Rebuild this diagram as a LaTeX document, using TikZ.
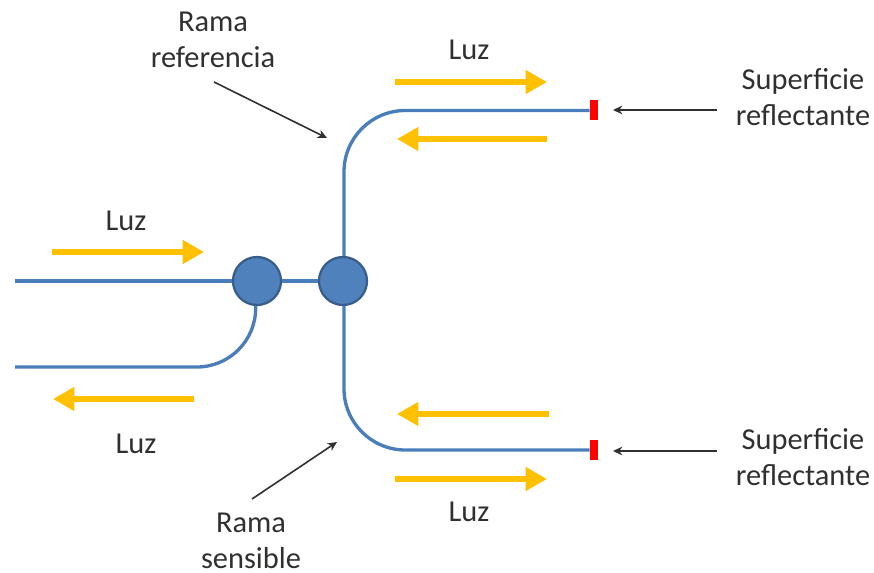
\documentclass[tikz,border=0pt]{standalone}
\usepackage{fontspec}
\setmainfont{Carlito}
\usetikzlibrary{arrows.meta}
\definecolor{fibreblue}{HTML}{4A7EBB}
\definecolor{couplerfill}{HTML}{4F81BD}
\definecolor{couplerline}{HTML}{385D8A}
\definecolor{lightyellow}{HTML}{FFC000}
\definecolor{labelgrey}{HTML}{303030}
\tikzset{
    fibre/.style={fibreblue, line width=2.5pt},
    coupler/.style={circle, draw=couplerline, fill=couplerfill, line width=1.7pt, minimum size=36pt, inner sep=0pt},
    mirror/.style={rectangle, fill=red, minimum width=6pt, minimum height=15pt, inner sep=0pt},
    light/.style={lightyellow, line width=5pt, -{Triangle[length=16pt,width=17pt]}, shorten >=0pt},
    pointer/.style={labelgrey, line width=1.2pt, -{Stealth[length=7pt,width=6.5pt]}},
    label/.style={text=labelgrey, font=\fontsize{22.8pt}{27pt}\selectfont, align=center, inner sep=0pt}
}
\begin{document}
\begin{tikzpicture}[x=0.75pt,y=-0.75pt]
    \useasboundingbox (0,0) rectangle (874,573);

    \node[coupler] (cplA) at (257,281) {};
    \node[coupler] (cplB) at (343,281) {};
    \node[mirror] (mirTop) at (594,110.5) {};
    \node[mirror] (mirBot) at (594,450) {};

    \coordinate (inTop) at (15,281);
    \coordinate (inBot) at (15,367);

    % fibres
    \draw[fibre] (inTop) -- (cplA);
    \draw[fibre] (cplA) -- (cplB);
    \draw[fibre, rounded corners=44pt] (inBot) -- (255.5,367) -- ([xshift=-1pt]cplA.south);
    \draw[fibre, rounded corners=46pt] ([xshift=.75pt]cplB.north) -- (344,110.5) -- (mirTop);
    \draw[fibre, rounded corners=46pt] ([xshift=.75pt]cplB.south) -- (344,450) -- (mirBot);

    % light
    \coordinate (l1a) at (52,252);   \coordinate (l1b) at (204,252);
    \coordinate (l2a) at (194,399);  \coordinate (l2b) at (53,399);
    \coordinate (l3a) at (395,82);   \coordinate (l3b) at (547,82);
    \coordinate (l4a) at (547,139);  \coordinate (l4b) at (397,139);
    \coordinate (l5a) at (549,414);  \coordinate (l5b) at (397,414);
    \coordinate (l6a) at (395,479);  \coordinate (l6b) at (547,479);
    \draw[light] (l1a) -- (l1b);
    \draw[light] (l2a) -- (l2b);
    \draw[light] (l3a) -- (l3b);
    \draw[light] (l4a) -- (l4b);
    \draw[light] (l5a) -- (l5b);
    \draw[light] (l6a) -- (l6b);

    % labels
    \node[label] (luzA) at (126,221) {Luz};
    \node[label] (luzB) at (136,444) {Luz};
    \node[label] (luzC) at (469,50) {Luz};
    \node[label] (luzD) at (469,512) {Luz};
    \node[label] (ramaRef) at (213,40) {Rama\\referencia};
    \node[label] (ramaSen) at (251,541) {Rama\\sensible};
    \node[label] (surfTop) at (803,97) {Superficie\\reflectante};
    \node[label] (surfBot) at (803,457) {Superficie\\reflectante};

    % pointers
    \coordinate (refFrom) at (214,82);  \coordinate (refTo) at (327,138);
    \coordinate (senFrom) at (252,499); \coordinate (senTo) at (337,442);
    \coordinate (topFrom) at (717,110); \coordinate (topTo) at (613,110);
    \coordinate (botFrom) at (717,451); \coordinate (botTo) at (613,451);
    \draw[pointer] (refFrom) -- (refTo);
    \draw[pointer] (senFrom) -- (senTo);
    \draw[pointer] (topFrom) -- (topTo);
    \draw[pointer] (botFrom) -- (botTo);
\end{tikzpicture}
\end{document}
